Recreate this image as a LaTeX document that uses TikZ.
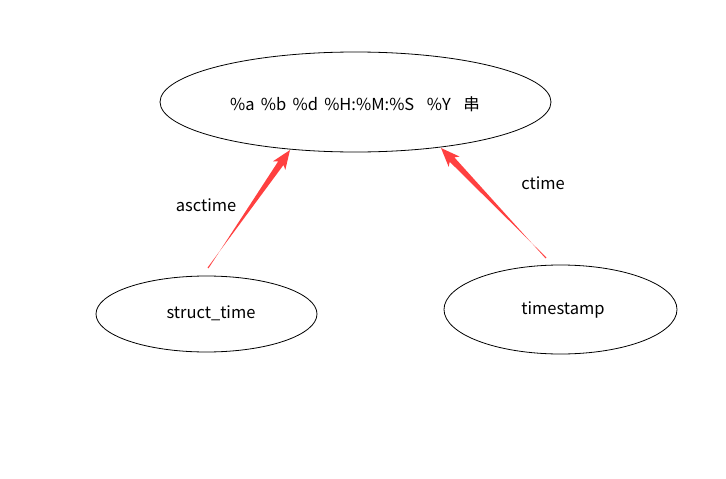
\documentclass[tikz,border=0pt]{standalone}
\usepackage{fontspec}
\setmainfont{Noto Sans CJK SC}
\newfontfamily\widefont[WordSpace=1.7]{Noto Sans CJK SC}
\usetikzlibrary{shapes.geometric,calc}
\definecolor{arrowred}{RGB}{255,64,64}
\tikzset{
  oval/.style={ellipse,draw,line width=0.8pt,inner sep=0pt},
  lbl/.style={inner sep=0pt,font=\fontsize{16.5}{19}\selectfont},
}
\newcommand\taperarrow[2]{%
  \fill[arrowred]
    ($(#1)!0.6pt!90:(#2)$) --
    ($($(#2)!16pt!(#1)$)!3.2pt!-90:(#2)$) --
    ($($(#2)!19pt!(#1)$)!7.5pt!-90:(#2)$) --
    (#2) --
    ($($(#2)!19pt!(#1)$)!7.5pt!90:(#2)$) --
    ($($(#2)!16pt!(#1)$)!3.2pt!90:(#2)$) --
    ($(#1)!0.6pt!-90:(#2)$) -- cycle;%
}
\begin{document}
\begin{tikzpicture}[x=1pt,y=-1pt]
\useasboundingbox (0,0) rectangle (726,479);
\node[oval,minimum width=391pt,minimum height=100pt] (fmt) at (355.5,102) {};
\node[lbl,font=\widefont\fontsize{16.5}{19}\selectfont] (fmttext) at (355,104) {\%a \%b \%d \%H:\%M:\%S\ \ \%Y\ \ 串};
\node[oval,minimum width=221pt,minimum height=76pt] (st) at (206.5,314) {};
\node[lbl] (sttext) at (211,313) {struct\_time};
\node[oval,minimum width=233pt,minimum height=89pt] (ts) at (560.5,309.5) {};
\node[lbl] (tstext) at (563,310) {timestamp};
\coordinate (t1) at (208,268);
\coordinate (h1) at (290,150);
\coordinate (t2) at (546,258);
\coordinate (h2) at (441,148);
\taperarrow{t1}{h1}
\taperarrow{t2}{h2}
\node[lbl] (asc) at (206,205) {asctime};
\node[lbl] (ct) at (543,183) {ctime};
\end{tikzpicture}
\end{document}
